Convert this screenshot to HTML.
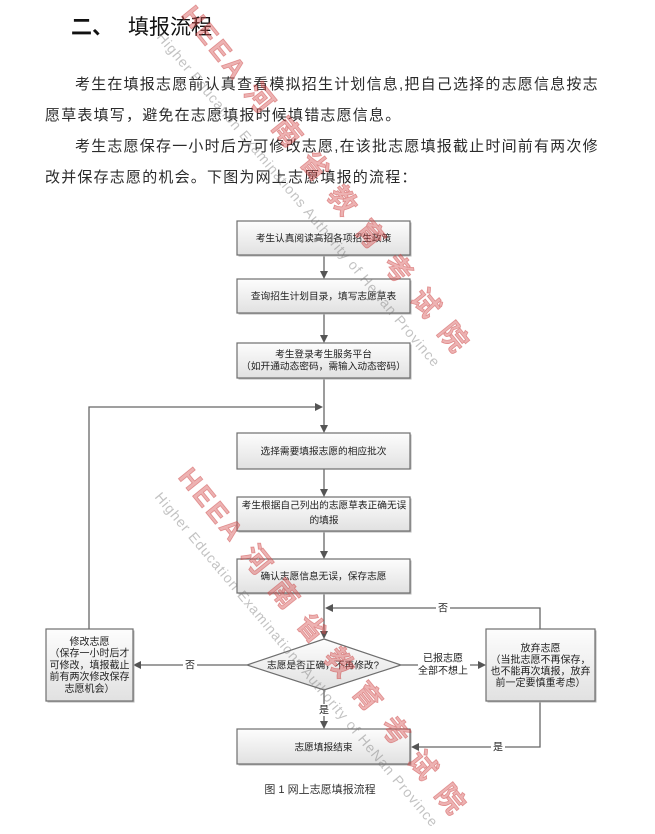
<!DOCTYPE html>
<html>
<head>
<meta charset="utf-8">
<style>
  html,body{margin:0;padding:0;background:#fff;}
  body{width:655px;height:803px;position:relative;overflow:hidden;
       font-family:"Liberation Sans","Noto Sans CJK SC",sans-serif;}
  .t{position:absolute;white-space:nowrap;color:#2b2b2b;}
  .p{font-size:15px;line-height:15px;letter-spacing:1.2px;}
  .wm{position:absolute;white-space:nowrap;transform-origin:0 50%;pointer-events:none;}
  .wmr{font-family:"Noto Sans CJK SC","WenQuanYi Zen Hei",sans-serif;font-size:28px;line-height:32px;
       letter-spacing:16px;color:rgba(215,85,85,0.45);font-weight:bold;
       -webkit-text-stroke:0.8px rgba(200,60,60,0.45);transform:rotate(51deg);}
  .wmr .logo{display:inline-block;font-family:"Liberation Sans",sans-serif;font-weight:bold;
       font-size:27px;letter-spacing:3px;width:100px;color:rgba(215,85,85,0.45);}
  .wme{font-family:"Liberation Sans",sans-serif;font-size:14px;line-height:14px;letter-spacing:1px;
       color:rgba(120,120,120,0.45);transform:rotate(50deg);}
</style>
</head>
<body>

<!-- Title -->
<div class="t" style="left:71px;top:17px;font-size:21px;line-height:21px;font-weight:bold;color:#111;">二、</div>
<div class="t" style="left:128px;top:17px;font-size:21px;line-height:21px;color:#111;">填报流程</div>

<!-- Paragraphs -->
<div class="t p" style="left:75px;top:77px;">考生在填报志愿前认真查看模拟招生计划信息,把自己选择的志愿信息按志</div>
<div class="t p" style="left:45px;top:108px;">愿草表填写，避免在志愿填报时候填错志愿信息。</div>
<div class="t p" style="left:75px;top:139px;">考生志愿保存一小时后方可修改志愿,在该批志愿填报截止时间前有两次修</div>
<div class="t p" style="left:45px;top:170px;">改并保存志愿的机会。下图为网上志愿填报的流程：</div>

<svg width="655" height="803" style="position:absolute;left:0;top:0;" xmlns="http://www.w3.org/2000/svg">
  <defs>
    <linearGradient id="g" x1="0" y1="0" x2="0" y2="1">
      <stop offset="0" stop-color="#fdfdfd"/>
      <stop offset="1" stop-color="#e1e1e1"/>
    </linearGradient>
  </defs>
  <g stroke="#666" stroke-width="1.3" fill="none">
    <line x1="324" y1="255" x2="324" y2="272"/>
    <line x1="324" y1="313" x2="324" y2="336"/>
    <line x1="324" y1="378" x2="324" y2="426"/>
    <line x1="324" y1="469" x2="324" y2="490"/>
    <line x1="324" y1="531" x2="324" y2="552"/>
    <line x1="324" y1="593" x2="324" y2="632"/>
    <line x1="324" y1="690" x2="324" y2="722"/>
    <polyline points="89,629 89,407 316,407"/>
    <polyline points="540,629 540,608 332,608"/>
    <line x1="247" y1="665" x2="141" y2="665"/>
    <line x1="401" y1="665" x2="478" y2="665"/>
    <polyline points="540,701 540,747 418,747"/>
  </g>
  <g fill="#555">
    <polygon points="320,271 328,271 324,279"/>
    <polygon points="320,335 328,335 324,343"/>
    <polygon points="320,425 328,425 324,433"/>
    <polygon points="320,489 328,489 324,497"/>
    <polygon points="320,551 328,551 324,559"/>
    <polygon points="320,631 328,631 324,639"/>
    <polygon points="320,721 328,721 324,729"/>
    <polygon points="315,403 315,411 323,407"/>
    <polygon points="333,604 333,612 325,608"/>
    <polygon points="141,661 141,669 133,665"/>
    <polygon points="478,661 478,669 486,665"/>
    <polygon points="419,743 419,751 411,747"/>
  </g>

  <g>
    <rect x="238.5" y="222.5" width="173" height="34" fill="#b5b5b5"/>
    <rect x="237" y="221" width="173" height="34" fill="url(#g)" stroke="#6e6e6e" stroke-width="1.2"/>
    <rect x="238.5" y="280.5" width="173" height="34" fill="#b5b5b5"/>
    <rect x="237" y="279" width="173" height="34" fill="url(#g)" stroke="#6e6e6e" stroke-width="1.2"/>
    <rect x="238.5" y="344.5" width="173" height="35" fill="#b5b5b5"/>
    <rect x="237" y="343" width="173" height="35" fill="url(#g)" stroke="#6e6e6e" stroke-width="1.2"/>
    <rect x="238.5" y="434.5" width="173" height="35" fill="#b5b5b5"/>
    <rect x="237" y="433" width="173" height="36" fill="url(#g)" stroke="#6e6e6e" stroke-width="1.2"/>
    <rect x="238.5" y="498.5" width="173" height="34" fill="#b5b5b5"/>
    <rect x="237" y="497" width="173" height="34" fill="url(#g)" stroke="#6e6e6e" stroke-width="1.2"/>
    <rect x="238.5" y="560.5" width="173" height="34" fill="#b5b5b5"/>
    <rect x="237" y="559" width="173" height="34" fill="url(#g)" stroke="#6e6e6e" stroke-width="1.2"/>
    <rect x="238.5" y="730.5" width="173" height="35" fill="#b5b5b5"/>
    <rect x="237" y="729" width="173" height="35" fill="url(#g)" stroke="#6e6e6e" stroke-width="1.2"/>
    <rect x="47.5" y="630.5" width="87" height="72" fill="#b5b5b5"/>
    <rect x="46" y="629" width="87" height="72" fill="url(#g)" stroke="#6e6e6e" stroke-width="1.2"/>
    <rect x="487.5" y="630.5" width="109" height="72" fill="#b5b5b5"/>
    <rect x="486" y="629" width="109" height="72" fill="url(#g)" stroke="#6e6e6e" stroke-width="1.2"/>
    <polygon points="324,639 401,665 324,690 247,665" fill="url(#g)" stroke="#6e6e6e" stroke-width="1.2"/>
  </g>

  <g fill="#fff">
    <rect x="436" y="602" width="14" height="12"/>
    <rect x="183" y="659" width="14" height="12"/>
    <rect x="317" y="704" width="14" height="12"/>
    <rect x="491" y="741" width="14" height="12"/>
    <rect x="418" y="651" width="52" height="26"/>
  </g>

  <g font-family="'Liberation Sans','Noto Sans CJK SC',sans-serif" font-size="9.7" fill="#222" text-anchor="middle">
    <text x="323.5" y="241.5">考生认真阅读高招各项招生政策</text>
    <text x="323.5" y="299.5">查询招生计划目录，填写志愿草表</text>
    <text x="323.5" y="357.5">考生登录考生服务平台</text>
    <text x="323.5" y="369.5">（如开通动态密码，需输入动态密码）</text>
    <text x="323.5" y="454.5">选择需要填报志愿的相应批次</text>
    <text x="324" y="508.5">考生根据自己列出的志愿草表正确无误</text>
    <text x="324" y="523.5">的填报</text>
    <text x="323.5" y="579.5">确认志愿信息无误，保存志愿</text>
    <text x="323" y="668.5">志愿是否正确，不再修改?</text>
    <text x="323.5" y="750.5">志愿填报结束</text>

    <g font-size="10">
      <text x="89.5" y="645">修改志愿</text>
      <text x="89.5" y="656.7">（保存一小时后才</text>
      <text x="89.5" y="668.4">可修改，填报截止</text>
      <text x="89.5" y="680.1">前有两次修改保存</text>
      <text x="89.5" y="692">志愿机会）</text>

      <text x="540.5" y="651.5">放弃志愿</text>
      <text x="540.5" y="663.2">（当批志愿不再保存，</text>
      <text x="540.5" y="674.5">也不能再次填报，放弃</text>
      <text x="540.5" y="686">前一定要慎重考虑）</text>

      <text x="443" y="661.5">已报志愿</text>
      <text x="443" y="674">全部不想上</text>

      <text x="443" y="611.5">否</text>
      <text x="190" y="668.5">否</text>
      <text x="324" y="713.5">是</text>
      <text x="498" y="750.5">是</text>
    </g>
    <text x="320" y="793" font-size="11" fill="#333">图 1 网上志愿填报流程</text>
  </g>
</svg>

<!-- Watermarks -->
<div class="wm wmr" style="left:188px;top:-8px;"><span class="logo">HEEA</span>河南省教育考试院</div>
<div class="wm wme" style="left:160px;top:27px;">Higher Education Examinations Authority of HeNan Province</div>
<div class="wm wmr" style="left:185px;top:454px;"><span class="logo">HEEA</span>河南省教育考试院</div>
<div class="wm wme" style="left:158px;top:487px;">Higher Education Examinations Authority of HeNan Province</div>

</body>
</html>
